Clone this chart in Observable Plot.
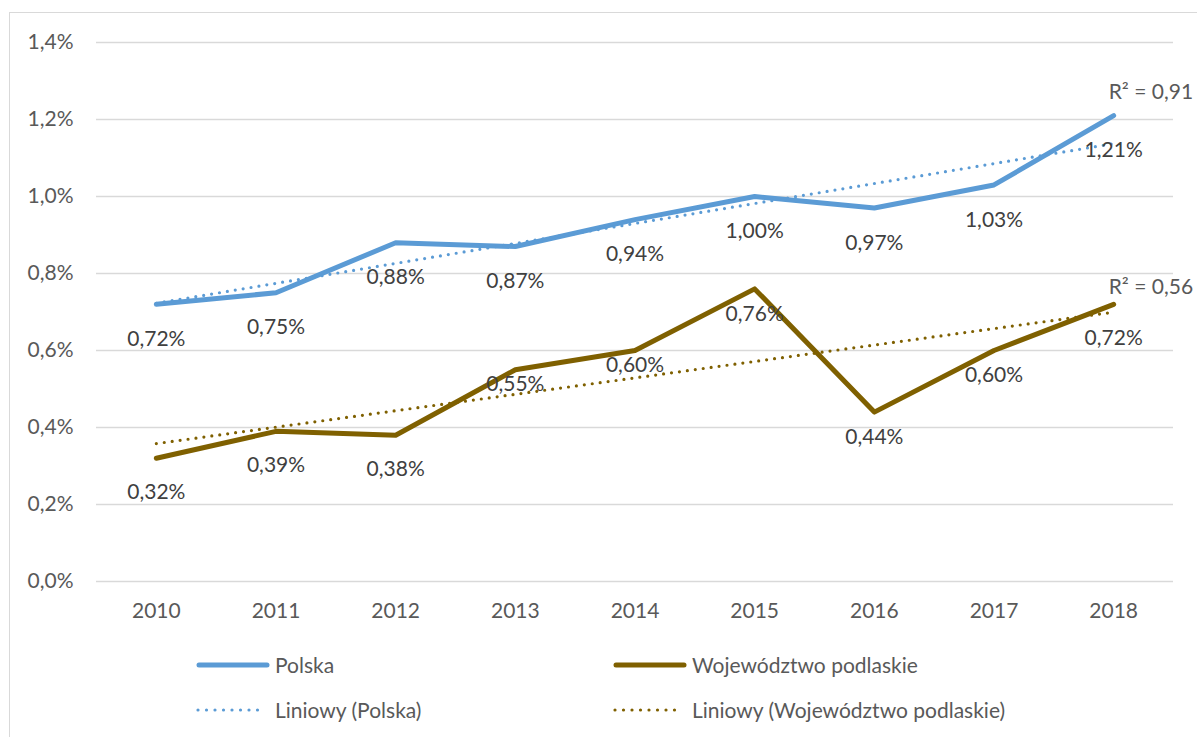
<!DOCTYPE html>
<html>
<head>
<meta charset="utf-8">
<script src="https://cdn.jsdelivr.net/npm/d3@7"></script>
<script src="https://cdn.jsdelivr.net/npm/@observablehq/plot@0.6"></script>
<style>
  html, body { margin: 0; padding: 0; background: #fff; }
  body { width: 1197px; height: 737px; overflow: hidden; position: relative; font-family: Lato, "Open Sans", sans-serif; }
  #frame { position: absolute; left: 9px; top: 12px; width: 1300px; height: 800px; border-left: 1.5px solid #d9d9d9; border-top: 1.5px solid #d9d9d9; pointer-events: none; }
  #legend { display: grid; grid-template-columns: 417px auto; grid-auto-rows: 45px; padding-left: 196px; padding-top: 2px; color: #595959; font-size: 21px; }
  .item { display: flex; align-items: center; }
  .item svg { margin-right: 5px; }
</style>
</head>
<body>
<div id="chart"></div>
<div id="legend"></div>
<div id="frame"></div>
<script>
const years = [2010, 2011, 2012, 2013, 2014, 2015, 2016, 2017, 2018];
const polska = [0.72, 0.75, 0.88, 0.87, 0.94, 1.00, 0.97, 1.03, 1.21];
const podlaskie = [0.32, 0.39, 0.38, 0.55, 0.60, 0.76, 0.44, 0.60, 0.72];
const seriesNames = ["Polska", "Województwo podlaskie"];
const trendNames = ["Liniowy (Polska)", "Liniowy (Województwo podlaskie)"];
const r2Labels = ["R² = 0,91", "R² = 0,56"];
const yTicks = [0, 0.2, 0.4, 0.6, 0.8, 1.0, 1.2, 1.4];

const BLUE = "#5B9BD5";
const GOLD = "#7F6000";
const FONT = "Lato, 'Open Sans', sans-serif";
const FS = 21;

const rowsPolska = years.map((year, i) => ({year, value: polska[i]}));
const rowsPodlaskie = years.map((year, i) => ({year, value: podlaskie[i]}));
const lastPolska = [rowsPolska[rowsPolska.length - 1]];
const lastPodlaskie = [rowsPodlaskie[rowsPodlaskie.length - 1]];

const fmtLabel = d => d.value.toFixed(2).replace(".", ",") + "%";
const fmtTick = d => d.toFixed(1).replace(".", ",") + "%";

const labelStyle = {fill: "#404040", fontSize: FS, fontFamily: FONT, stroke: null};

const inYears = list => rows => rows.filter(r => list.includes(r.year));

const chart = Plot.plot({
  width: 1197,
  height: 640,
  marginLeft: 96,
  marginRight: 24,
  marginTop: 42,
  marginBottom: 59,
  style: {fontFamily: FONT, fontSize: FS + "px", color: "#595959", background: "transparent"},
  x: {domain: [2009.5, 2018.5], label: null},
  y: {domain: [0, 1.4], label: null},
  marks: [
    Plot.gridY(yTicks, {stroke: "#d9d9d9", strokeOpacity: 1, strokeWidth: 1.6}),
    Plot.axisX(years, {tickSize: 0, tickPadding: 22, tickFormat: d => String(d), fontSize: FS, label: null}),
    Plot.axisY(yTicks, {tickSize: 0, tickPadding: 23, tickFormat: fmtTick, fontSize: FS, label: null}),
    Plot.line(rowsPolska, {x: "year", y: "value", stroke: BLUE, strokeWidth: 5, strokeLinecap: "round", strokeLinejoin: "round"}),
    Plot.line(rowsPodlaskie, {x: "year", y: "value", stroke: GOLD, strokeWidth: 5, strokeLinecap: "round", strokeLinejoin: "round"}),
    Plot.linearRegressionY(rowsPolska, {x: "year", y: "value", stroke: BLUE, strokeWidth: 3.2, strokeDasharray: "0 8", strokeLinecap: "round", ci: 0}),
    Plot.linearRegressionY(rowsPodlaskie, {x: "year", y: "value", stroke: GOLD, strokeWidth: 3.2, strokeDasharray: "0 8", strokeLinecap: "round", ci: 0}),
    Plot.text(rowsPolska, {x: "year", y: "value", text: fmtLabel, dy: 35, ...labelStyle}),
    Plot.text(inYears([2010, 2011, 2012, 2018])(rowsPodlaskie), {x: "year", y: "value", text: fmtLabel, dy: 34, ...labelStyle}),
    Plot.text(inYears([2013, 2014])(rowsPodlaskie), {x: "year", y: "value", text: fmtLabel, dy: 15, ...labelStyle}),
    Plot.text(inYears([2015, 2016, 2017])(rowsPodlaskie), {x: "year", y: "value", text: fmtLabel, dy: 25, ...labelStyle}),
    Plot.text(lastPolska, {x: "year", y: "value", text: () => r2Labels[0], textAnchor: "start", dx: -5, dy: -23, fill: "#595959", fontSize: FS, fontFamily: FONT}),
    Plot.text(lastPodlaskie, {x: "year", y: "value", text: () => r2Labels[1], textAnchor: "start", dx: -5, dy: -17, fill: "#595959", fontSize: FS, fontFamily: FONT})
  ]
});
document.getElementById("chart").appendChild(chart);

// Legend
const legend = document.getElementById("legend");
const items = [
  {name: seriesNames[0], color: BLUE, dotted: false},
  {name: seriesNames[1], color: GOLD, dotted: false},
  {name: trendNames[0], color: BLUE, dotted: true},
  {name: trendNames[1], color: GOLD, dotted: true}
];
for (const it of items) {
  const div = document.createElement("div");
  div.className = "item";
  const ns = "http://www.w3.org/2000/svg";
  const svg = document.createElementNS(ns, "svg");
  svg.setAttribute("width", 74);
  svg.setAttribute("height", 10);
  const ln = document.createElementNS(ns, "line");
  ln.setAttribute("x1", it.dotted ? 2 : 3);
  ln.setAttribute("x2", it.dotted ? 70 : 71);
  ln.setAttribute("y1", 5);
  ln.setAttribute("y2", 5);
  ln.setAttribute("stroke", it.color);
  ln.setAttribute("stroke-linecap", "round");
  ln.setAttribute("stroke-width", it.dotted ? 3.2 : 5);
  if (it.dotted) ln.setAttribute("stroke-dasharray", "0 8.5");
  svg.appendChild(ln);
  const span = document.createElement("span");
  span.textContent = it.name;
  div.appendChild(svg);
  div.appendChild(span);
  legend.appendChild(div);
}
</script>
</body>
</html>
